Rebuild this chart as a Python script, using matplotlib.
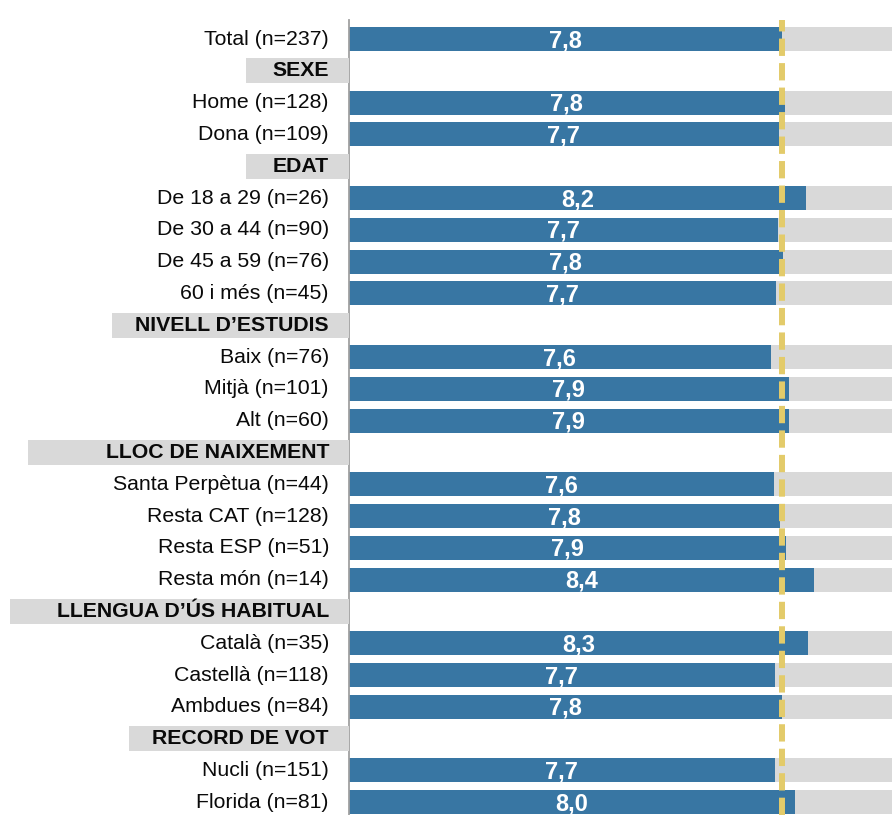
import matplotlib
matplotlib.use("Agg")
import matplotlib.pyplot as plt
from matplotlib.patches import Rectangle

plt.rcParams['font.family'] = ['Liberation Sans', 'DejaVu Sans']

# ---- data ----
row_labels = [
    "Total (n=237)", "SEXE", "Home (n=128)", "Dona (n=109)",
    "EDAT", "De 18 a 29 (n=26)", "De 30 a 44 (n=90)", "De 45 a 59 (n=76)", "60 i més (n=45)",
    "NIVELL D\u2019ESTUDIS", "Baix (n=76)", "Mitjà (n=101)", "Alt (n=60)",
    "LLOC DE NAIXEMENT", "Santa Perpètua (n=44)", "Resta CAT (n=128)", "Resta ESP (n=51)", "Resta món (n=14)",
    "LLENGUA D\u2019ÚS HABITUAL", "Català (n=35)", "Castellà (n=118)", "Ambdues (n=84)",
    "RECORD DE VOT", "Nucli (n=151)", "Florida (n=81)",
]
is_header = [False, True, False, False,
             True, False, False, False, False,
             True, False, False, False,
             True, False, False, False, False,
             True, False, False, False,
             True, False, False]
values = [7.79, None, 7.84, 7.74,
          None, 8.23, 7.71, 7.80, 7.68,
          None, 7.59, 7.91, 7.92,
          None, 7.64, 7.76, 7.86, 8.37,
          None, 8.26, 7.66, 7.79,
          None, 7.67, 8.02]
scale_max = 10
reference_value = values[0]

# header box left edges (figure pixels) - styling
header_box_left_px = {
    "SEXE": 246, "EDAT": 246, "NIVELL D\u2019ESTUDIS": 112,
    "LLOC DE NAIXEMENT": 28, "LLENGUA D\u2019ÚS HABITUAL": 10, "RECORD DE VOT": 129,
}

# ---- figure ----
W, H, DPI = 892, 815, 100
fig = plt.figure(figsize=(W / DPI, H / DPI), dpi=DPI)
ax_left_px = 348.5
ax = fig.add_axes([ax_left_px / W, 0, 1 - ax_left_px / W, 1 - 20 / H])

px_per_unit = 55.65
ax.set_xlim(0, (W - ax_left_px) / px_per_unit)
ax.set_ylim(24.40, -0.6)

blue = '#3876a3'
grey = '#d9d9d9'
bar_h = 0.755

for i, (lab, hdr, v) in enumerate(zip(row_labels, is_header, values)):
    y_disp = ax.transData.transform((0, i))[1]
    if hdr:
        left_fig = header_box_left_px[lab] / W
        box_h_px = 25
        rect = Rectangle((left_fig, (y_disp - box_h_px / 2) / H), ax_left_px / W - left_fig, box_h_px / H,
                         transform=fig.transFigure, facecolor=grey, edgecolor='none', zorder=0)
        fig.patches.append(rect)
        fig.text(329 / W, y_disp / H, lab, ha='right', va='center', fontsize=15.3,
                 fontweight='bold', color='#0a0a0a')
    else:
        ax.barh(i, scale_max, height=bar_h, color=grey, zorder=1)
        ax.barh(i, v, height=bar_h, color=blue, zorder=2)
        fig.text(329 / W, y_disp / H, lab, ha='right', va='center', fontsize=15.3, color='#0a0a0a')
        ax.text(v / 2, i + 0.05, f"{v:.1f}".replace('.', ','), ha='center', va='center',
                fontsize=17, fontweight='bold', color='white', zorder=4)

ax.axvline(reference_value, color='#e3cb6a', lw=4.3, linestyle=(0, (2.9, 1.2)), zorder=3)

for s in ['top', 'right', 'bottom']:
    ax.spines[s].set_visible(False)
ax.spines['left'].set_color('#a0a0a0')
ax.spines['left'].set_linewidth(1.3)
ax.spines['left'].set_zorder(5)
ax.set_xticks([])
ax.set_yticks([])
ax.patch.set_alpha(0)

fig.savefig('out.png', dpi=DPI)
